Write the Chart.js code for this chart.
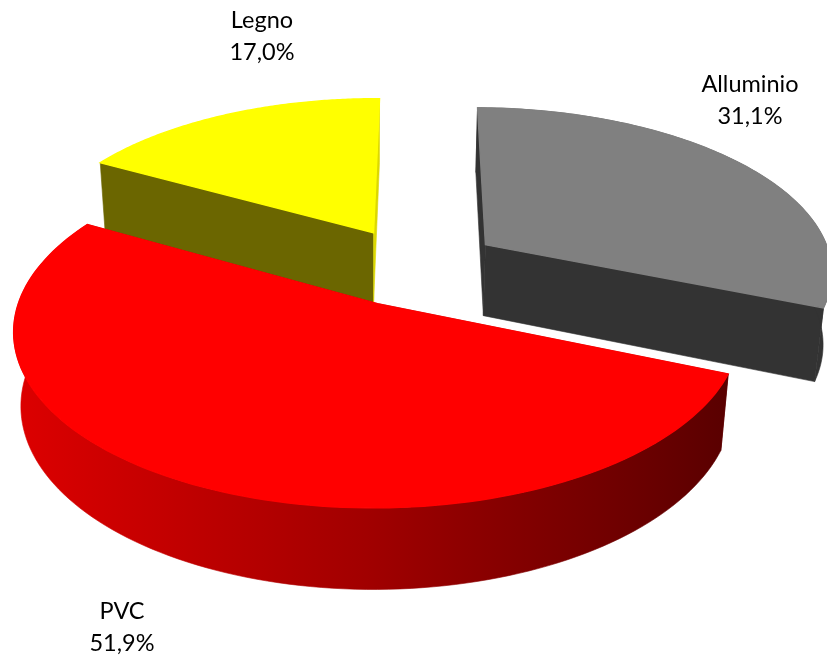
<!DOCTYPE html>
<html>
<head>
<meta charset="utf-8">
<script src="https://cdn.jsdelivr.net/npm/chart.js@4"></script>
<style>
    html, body { margin: 0; padding: 0; background: #fff; overflow: hidden; }
    canvas { display: block; }
</style>
</head>
<body>
<canvas id="chart" width="827" height="656"></canvas>
<script>
const categories = ['Alluminio', 'PVC', 'Legno'];
const values = [31.1, 51.9, 17.0];

const topColors = ['#808080', '#ff0000', '#ffff00'];
const startFaceColors = ['#333333', '#660000', '#6b6600'];
const endFaceColors = ['#333333', '#660000', '#dcd800'];
const labelSpots = [[750, 84], [122, 611], [262, 20]];

// tilted disc -> screen, fitted on the picture
const view = { ox: 374.5, oy: 303, a: 359, s: -4, b: 173.4, p: -0.15, c: 75, q: 0.02, cu: 0.116, cv: -0.218 };

function project(u, v, z) {
    const w = 1 + view.p * v + view.q * z;
    return [view.ox + (view.a * u + view.s * v) / w, view.oy + (view.b * v + view.c * z) / w];
}

function paint(ctx, pts, color, lineWidth) {
    ctx.fillStyle = color;
    ctx.strokeStyle = color;
    ctx.lineWidth = lineWidth;
    ctx.beginPath();
    pts.forEach((pt, i) => i ? ctx.lineTo(pt[0], pt[1]) : ctx.moveTo(pt[0], pt[1]));
    ctx.closePath();
    ctx.fill();
    ctx.stroke();
}

function rimColor(ctx, index) {
    if (index !== 1) return startFaceColors[index];
    const g = ctx.createLinearGradient(20, 0, 725, 0);
    g.addColorStop(0, '#dc0000');
    g.addColorStop(0.5, '#a00000');
    g.addColorStop(1, '#5a0000');
    return g;
}

const pie3d = {
    id: 'pie3d',
    beforeDatasetDraw(chart, args) {
        const ctx = chart.ctx;
        const arcs = chart.getDatasetMeta(args.index).data;
        // back slices first, the big front one last
        [2, 0, 1].forEach(i => {
            const arc = arcs[i];
            const mid = (arc.startAngle + arc.endAngle) / 2;
            const e = arc.options.offset / arc.outerRadius;
            const cu = view.cu + e * Math.cos(mid);
            const cv = view.cv + e * Math.sin(mid);
            const rim = z => {
                const pts = [];
                for (let s = 0; s <= 120; s++) {
                    const t = arc.startAngle + (arc.endAngle - arc.startAngle) * s / 120;
                    pts.push(project(cu + Math.cos(t), cv + Math.sin(t), z));
                }
                return pts;
            };
            const top = rim(0);
            const bottom = rim(1);
            const apexTop = project(cu, cv, 0);
            const apexBottom = project(cu, cv, 1);

            ctx.save();
            paint(ctx, [apexTop, top[0], bottom[0], apexBottom], startFaceColors[i], 0.6);
            paint(ctx, [apexTop, top[120], bottom[120], apexBottom], endFaceColors[i], 0.6);
            // the yellow slice only shows its rim from behind, so it has none
            if (i !== 2) paint(ctx, top.concat(bottom.slice().reverse()), rimColor(ctx, i), 0.6);
            paint(ctx, [apexTop].concat(top), topColors[i], 1.4);
            ctx.restore();
        });
        return false;
    },
    afterDatasetsDraw(chart) {
        const ctx = chart.ctx;
        ctx.save();
        ctx.font = '23.5px Lato';
        ctx.fillStyle = '#000';
        ctx.textAlign = 'center';
        ctx.textBaseline = 'middle';
        categories.forEach((name, i) => {
            const pct = values[i].toFixed(1).replace('.', ',') + '%';
            ctx.fillText(name, labelSpots[i][0], labelSpots[i][1]);
            ctx.fillText(pct, labelSpots[i][0], labelSpots[i][1] + 32);
        });
        ctx.restore();
    }
};

new Chart(document.getElementById('chart').getContext('2d'), {
    type: 'pie',
    data: {
        labels: categories,
        datasets: [{
            data: values,
            backgroundColor: topColors,
            borderWidth: 0,
            offset: 49.3
        }]
    },
    options: {
        responsive: false,
        animation: false,
        rotation: 0.5,
        radius: 200,
        layout: { padding: 0 },
        plugins: { legend: { display: false }, tooltip: { enabled: false } }
    },
    plugins: [pie3d]
});
</script>
</body>
</html>
